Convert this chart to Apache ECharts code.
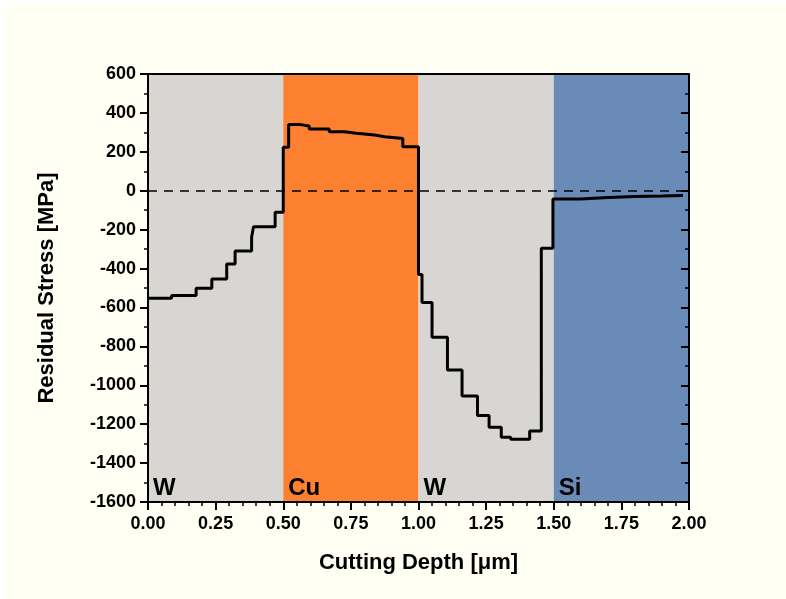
<!DOCTYPE html>
<html><head><meta charset="utf-8">
<script src="https://cdn.jsdelivr.net/npm/echarts@6/dist/echarts.min.js"></script>
<style>
html,body{margin:0;padding:0;background:#ffffff;}
#bg{position:absolute;left:5px;top:5px;width:781px;height:594px;background:#FFFFF3;}
#c{position:absolute;left:0;top:0;width:786px;height:599px;}
</style></head>
<body><div id="bg"></div><div id="c"></div>
<script>
// Step change positions (cutting depth, µm) and residual stress (MPa) from each position
const depth = [0, 0.087, 0.178, 0.236, 0.291, 0.322, 0.383, 0.39, 0.47, 0.5, 0.52, 0.559, 0.596, 0.67, 0.726, 0.77, 0.838, 0.875, 0.942,
  1.0, 1.013, 1.05, 1.107, 1.161, 1.218, 1.261, 1.306, 1.341, 1.411, 1.454, 1.497, 1.6, 1.7, 1.8, 1.9, 1.978];
const stress = [-553, -539, -501, -454, -377, -310, -239, -185, -111, 223, 341, 333, 317, 303, 295, 286, 278, 269, 226,
  -430, -575, -753, -921, -1055, -1156, -1216, -1267, -1278, -1235, -296, -42, -35, -30, -27, -24, -22];
// Material layers
const layerNames = ['W', 'Cu', 'W', 'Si'];
const layerStart = [0, 0.5, 1.0, 1.5];
const layerEnd = [0.5, 1.0, 1.5, 2.0];
const layerColors = ['#D8D6D2', '#FD8030', '#D8D6D2', '#6A8AB8'];
// Axis ticks
const xMin = 0, xMax = 2, xStep = 0.25;
const yMin = -1600, yMax = 600, yStep = 200;

const FONT = '"Liberation Sans", Arial, sans-serif';
const chart = echarts.init(document.getElementById('c'), null, {renderer: 'canvas'});
const lineData = depth.map((d, i) => [d, stress[i]]);
const areas = layerNames.map((n, i) => [
  {xAxis: layerStart[i], yAxis: yMax, itemStyle: {color: layerColors[i]}},
  {xAxis: layerEnd[i], yAxis: yMin}
]);
const labelPts = layerNames.map((n, i) => ({value: n, coord: [layerStart[i], yMin]}));
chart.setOption({
  backgroundColor: 'transparent',
  animation: false,
  grid: {left: 148, right: 97, top: 74, bottom: 97},
  xAxis: [{
    type: 'value', min: xMin, max: xMax, interval: xStep, z: 5,
    name: 'Cutting Depth [μm]', nameLocation: 'middle', nameGap: 50,
    nameTextStyle: {fontFamily: FONT, fontWeight: 'bold', fontSize: 22, color: '#000'},
    axisLine: {show: true, onZero: false, lineStyle: {color: '#000', width: 2}},
    axisTick: {show: true, inside: false, length: 8, lineStyle: {color: '#000', width: 2}},
    minorTick: {show: true, splitNumber: 5, length: 4, lineStyle: {color: '#000', width: 1.5}},
    axisLabel: {margin: 13, fontFamily: FONT, fontWeight: 'bold', fontSize: 18, color: '#000',
      formatter: v => v.toFixed(2)},
    splitLine: {show: false}
  }, {
    type: 'value', min: xMin, max: xMax, position: 'top', z: 5,
    axisLine: {show: true, onZero: false, lineStyle: {color: '#000', width: 2}},
    axisTick: {show: false}, axisLabel: {show: false}, splitLine: {show: false}
  }],
  yAxis: [{
    type: 'value', min: yMin, max: yMax, interval: yStep, z: 5,
    name: 'Residual Stress [MPa]', nameLocation: 'middle', nameGap: 90,
    nameTextStyle: {fontFamily: FONT, fontWeight: 'bold', fontSize: 22, color: '#000'},
    axisLine: {show: true, onZero: false, lineStyle: {color: '#000', width: 2}},
    axisTick: {show: true, inside: false, length: 8, lineStyle: {color: '#000', width: 2}},
    minorTick: {show: true, splitNumber: 2, length: 4, lineStyle: {color: '#000', width: 1.5}},
    axisLabel: {margin: 12, fontFamily: FONT, fontWeight: 'bold', fontSize: 18, color: '#000',
      formatter: v => String(v)},
    splitLine: {show: false}
  }, {
    type: 'value', min: yMin, max: yMax, interval: yStep, position: 'right', z: 5,
    axisLine: {show: true, onZero: false, lineStyle: {color: '#000', width: 2}},
    axisTick: {show: true, inside: true, length: 8, lineStyle: {color: '#000', width: 2}},
    minorTick: {show: true, splitNumber: 2, length: 4, lineStyle: {color: '#000', width: 1.5}},
    axisLabel: {show: false}, splitLine: {show: false}
  }],
  series: [{
    type: 'line', z: 1, data: [[0, 0]], symbol: 'none', lineStyle: {opacity: 0}, silent: true,
    markArea: {silent: true, label: {show: false}, data: areas}
  }, {
    type: 'line', z: 3, data: lineData, step: 'end', symbol: 'none',
    lineStyle: {color: '#000', width: 3}, itemStyle: {color: '#000'},
    markLine: {
      silent: true, symbol: 'none', label: {show: false},
      lineStyle: {color: '#000', type: [9, 7], width: 1.5},
      data: [{yAxis: 0}]
    },
    markPoint: {
      silent: true, symbol: 'circle', symbolSize: 0,
      label: {show: true, position: 'insideBottomLeft', formatter: p => p.value,
        offset: [0, 3], align: 'left', verticalAlign: 'bottom',
        fontFamily: FONT, fontWeight: 'bold', fontSize: 24, color: '#000'},
      data: labelPts
    }
  }]
});
</script></body></html>
